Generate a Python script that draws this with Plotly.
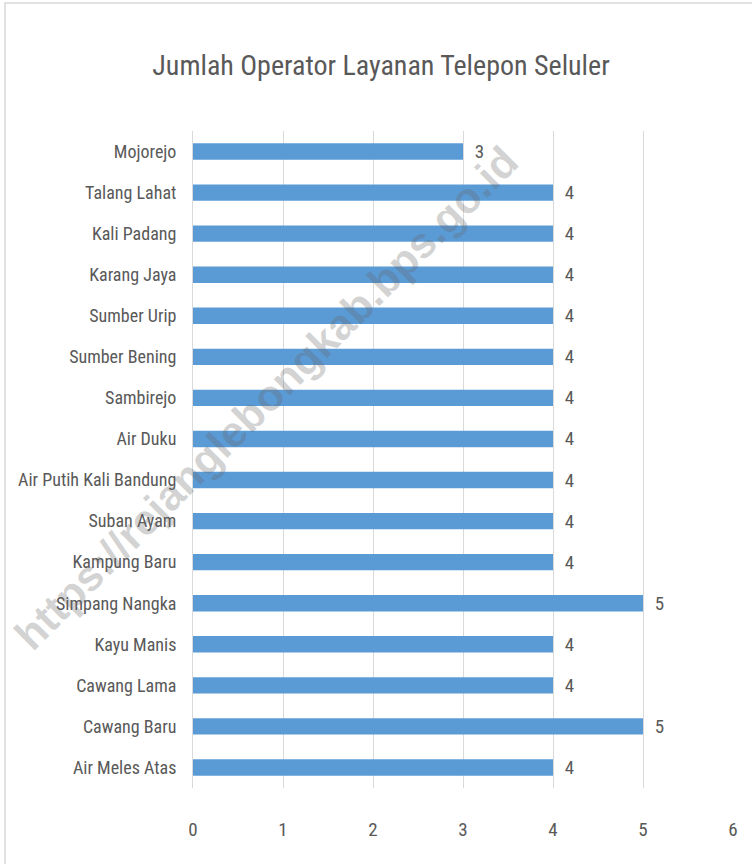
import plotly.graph_objects as go

categories = ["Air Meles Atas", "Cawang Baru", "Cawang Lama", "Kayu Manis", "Simpang Nangka",
              "Kampung Baru", "Suban Ayam", "Air Putih Kali Bandung", "Air Duku", "Sambirejo",
              "Sumber Bening", "Sumber Urip", "Karang Jaya", "Kali Padang", "Talang Lahat", "Mojorejo"]
values = [4, 5, 4, 4, 5, 4, 4, 4, 4, 4, 4, 4, 4, 4, 4, 3]
x_ticks = [0, 1, 2, 3, 4, 5, 6]
title_text = "Jumlah Operator Layanan Telepon Seluler"
watermark = "https://rejanglebongkab.bps.go.id"

FONT = "Liberation Sans Narrow, Roboto Condensed, Arial Narrow, Roboto, sans-serif"
GREY = "#595959"

fig = go.Figure(go.Bar(
    x=values, y=categories, orientation="h",
    marker=dict(color="#5B9BD5", line=dict(width=0)),
    text=[str(v) for v in values], texttemplate="\u00a0\u00a0%{text}", textposition="outside",
    textfont=dict(family=FONT, size=19, color=GREY),
    constraintext="none",
    cliponaxis=False,
    hoverinfo="skip",
))

W, H = 752, 864
L, R, T, B = 193, 19, 131, 76
pw, ph = W - L - R, H - T - B

def px_to_paper(px, py):
    return (px - L) / pw, (H - B - py) / ph

x0, y0 = px_to_paper(5, 870)
x1, y1 = px_to_paper(770, 3)

fig.update_layout(
    width=W, height=H,
    margin=dict(l=L, r=R, t=T, b=B),
    paper_bgcolor="white", plot_bgcolor="white",
    bargap=0.6,
    showlegend=False,
    title=dict(text=title_text, x=381 / W, xanchor="center", y=1 - 65 / H, yanchor="middle",
               font=dict(family=FONT, size=28, color=GREY)),
    xaxis=dict(range=[0, 6], tickvals=x_ticks, showgrid=True, gridcolor="#d9d9d9", gridwidth=1,
               zeroline=False, showline=False, ticks="",
               tickfont=dict(family=FONT, size=19, color=GREY), ticklabelstandoff=28),
    yaxis=dict(categoryorder="array", categoryarray=categories, showgrid=False, zeroline=False,
               showline=True, linecolor="#d9d9d9", linewidth=1, ticks="",
               tickfont=dict(family=FONT, size=18, color=GREY), ticklabelstandoff=12),
    shapes=[dict(type="rect", xref="paper", yref="paper", x0=x0, x1=x1, y0=y0, y1=y1,
                 line=dict(color="#d9d9d9", width=1.5), fillcolor="rgba(0,0,0,0)", layer="below")],
)

wx, wy = px_to_paper(266, 398)
fig.add_annotation(text="<b>" + watermark + "</b>", xref="paper", yref="paper", x=wx, y=wy,
                   xanchor="center", yanchor="middle",
                   showarrow=False, textangle=-45,
                   font=dict(family="Liberation Sans, Arial, sans-serif", size=43,
                             color="rgba(100,100,100,0.28)"))

fig.write_html("out.html", config={"displayModeBar": False},
               post_script="document.body.style.margin='0';")
